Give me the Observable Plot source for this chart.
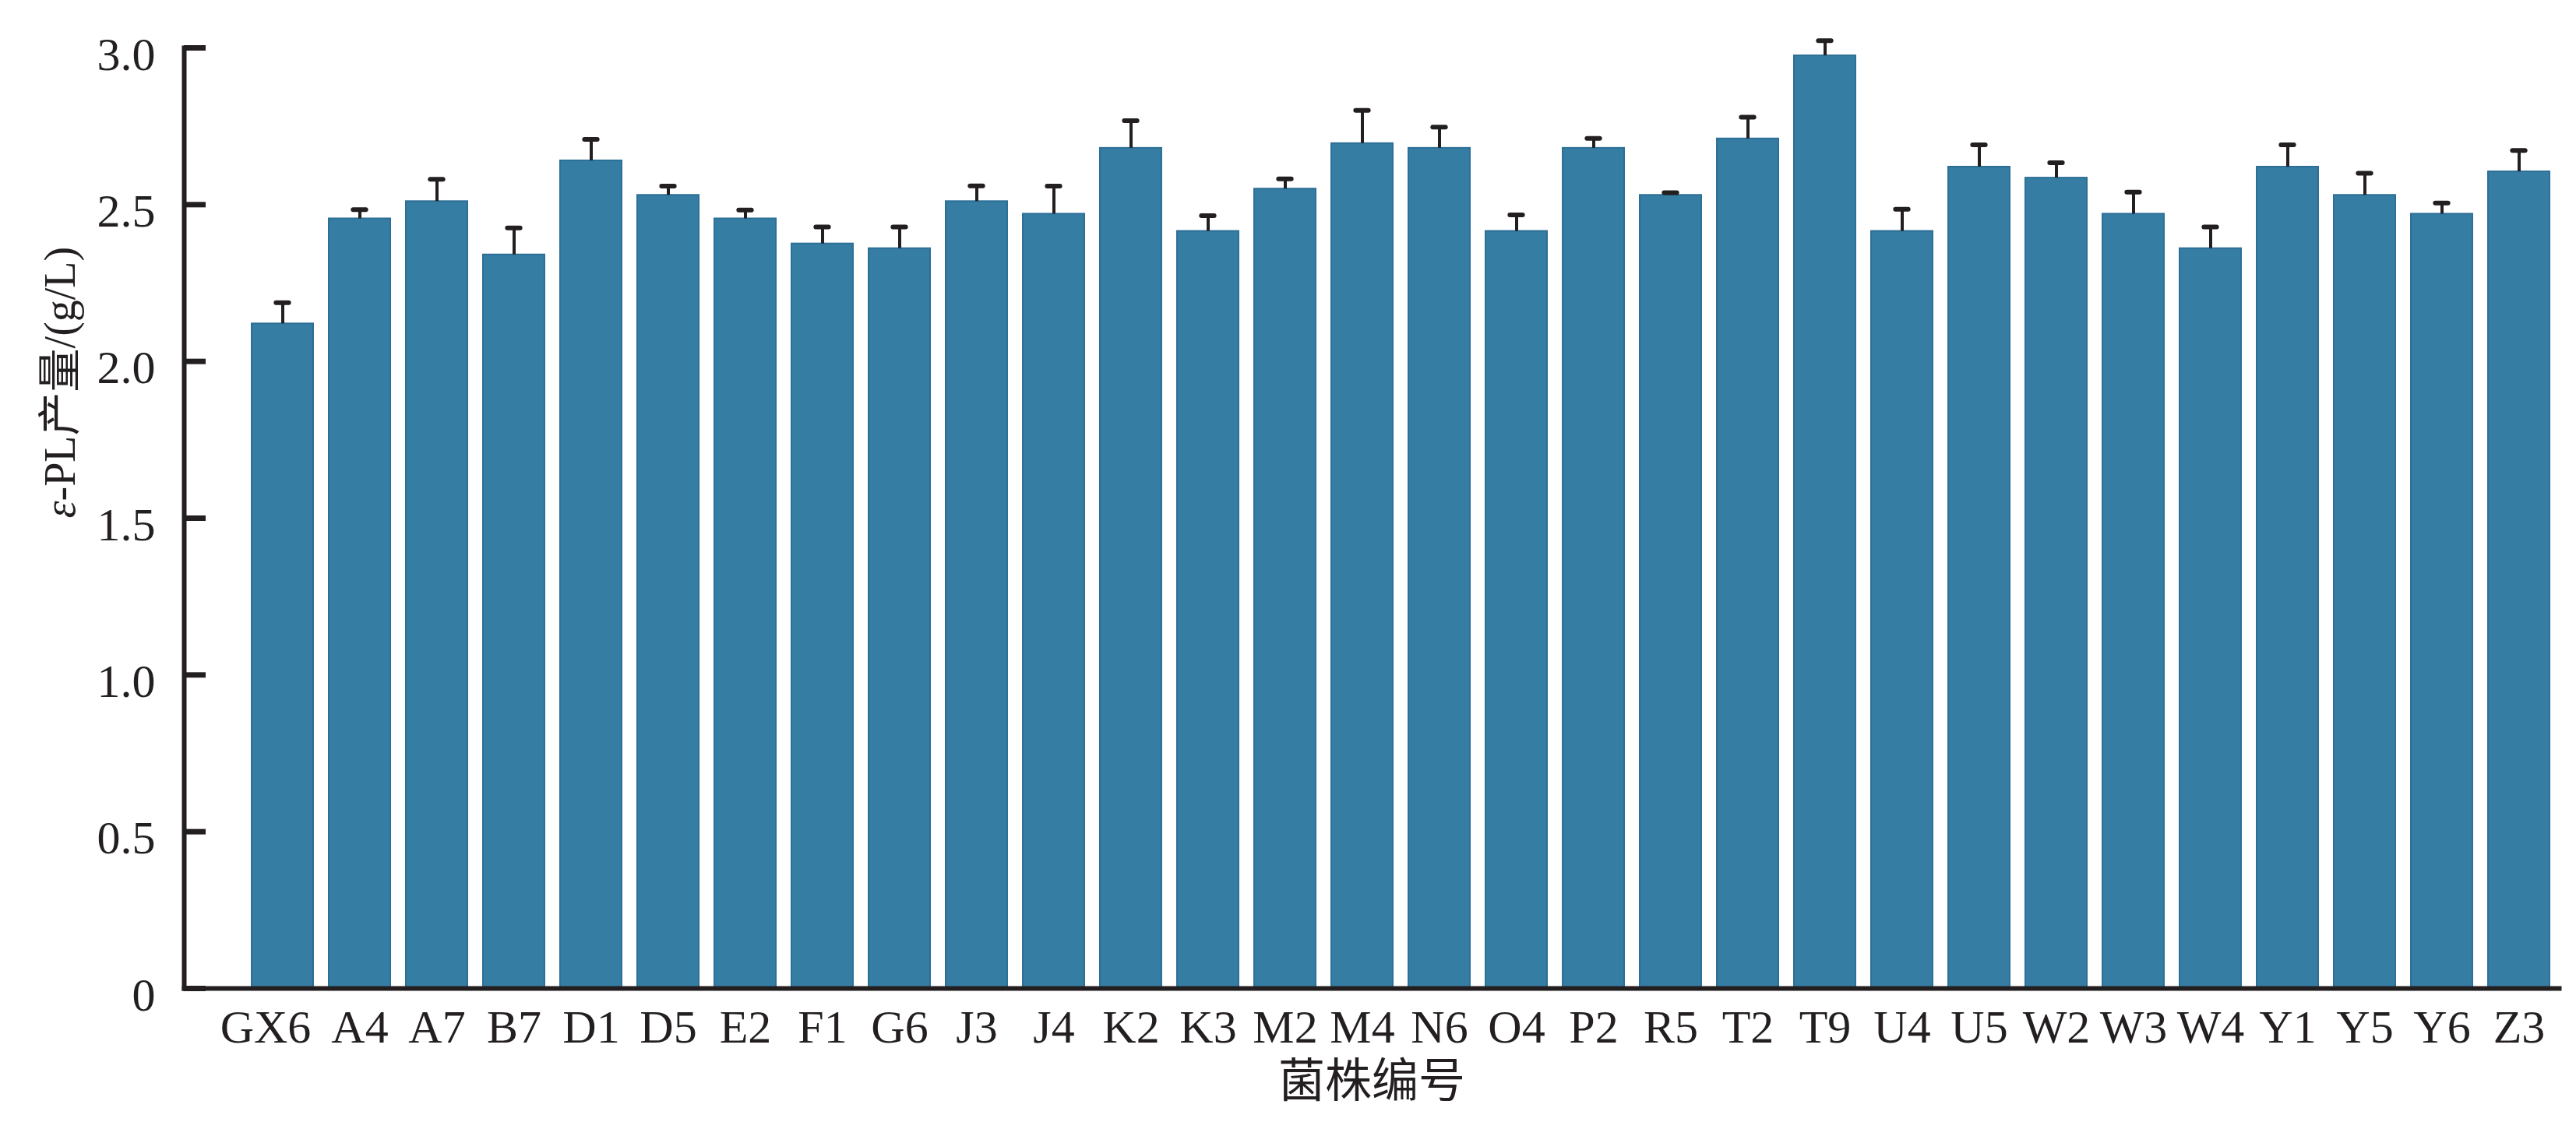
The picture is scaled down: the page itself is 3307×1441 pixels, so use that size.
<!DOCTYPE html>
<html>
<head>
<meta charset="utf-8">
<script src="https://cdn.jsdelivr.net/npm/d3@7"></script>
<script src="https://cdn.jsdelivr.net/npm/@observablehq/plot@0.6"></script>
<style>
  html, body { margin: 0; padding: 0; background: #ffffff; }
  #chart { width: 3307px; height: 1441px; }
</style>
</head>
<body>
<div id="chart"></div>
<script>
// ---- data ----
const strains = ["GX6","A4","A7","B7","D1","D5","E2","F1","G6","J3","J4","K2","K3","M2","M4","N6","O4","P2","R5","T2","T9","U4","U5","W2","W3","W4","Y1","Y5","Y6","Z3"];
const yields  = [2.12,2.455,2.51,2.34,2.64,2.53,2.455,2.375,2.36,2.51,2.47,2.68,2.415,2.55,2.695,2.68,2.415,2.68,2.53,2.71,2.975,2.415,2.62,2.585,2.47,2.36,2.62,2.53,2.47,2.605];
const errors  = [0.067,0.029,0.071,0.086,0.068,0.029,0.028,0.054,0.069,0.05,0.089,0.088,0.05,0.032,0.106,0.067,0.052,0.031,0.008,0.069,0.048,0.07,0.071,0.049,0.07,0.069,0.071,0.07,0.035,0.068];
const yTicks  = [0, 0.5, 1.0, 1.5, 2.0, 2.5, 3.0];
const yLabel  = "ε-PL产量/(g/L)";
const xLabel  = "菌株编号";

const table = strains.map((s, i) => ({strain: s, value: yields[i], top: yields[i] + errors[i]}));

const W = 3307, H = 1441;
const mL = 236, mR = 22, mT = 61, mB = 172;
const ink = "#231f20";
const barFill = "#367da3";
const font = "'Liberation Serif', 'Times New Roman', 'Noto Sans CJK SC', serif";

const bandW = (3283 - 314) / (strains.length - 0.2) * 0.8;
const capLen = 17;
const capInset = (bandW - capLen) / 2;

const chart = Plot.plot({
  width: W,
  height: H,
  marginLeft: mL,
  marginRight: mR,
  marginTop: mT,
  marginBottom: mB,
  style: {fontFamily: font, fontSize: "60px", color: ink, background: "#ffffff"},
  x: {domain: strains, range: [314, 3283], paddingInner: 0.2, paddingOuter: 0, label: null},
  y: {domain: [0, 3], label: null},
  marks: [
    Plot.barY(table, {x: "strain", y: "value", fill: barFill, stroke: "#2c6f97", strokeWidth: 2}),
    Plot.ruleX(table, {x: "strain", y1: "value", y2: "top", stroke: ink, strokeWidth: 4}),
    Plot.tickY(table, {x: "strain", y: "top", stroke: ink, strokeWidth: 6, strokeLinecap: "round", inset: capInset}),
    Plot.axisY({ticks: yTicks, tickSize: -28, text: null, stroke: ink, strokeWidth: 7, label: null}),
    Plot.axisY({ticks: yTicks, tickSize: 0, tickPadding: 37, dy: 9, fontSize: 60, fill: ink,
                tickFormat: d => d === 0 ? "0" : d.toFixed(1), label: null}),
    Plot.axisX({tickSize: 0, tickPadding: 27, fontSize: 60, fill: ink, label: null, className: "xticks"}),
    Plot.frame({anchor: "left", stroke: ink, strokeWidth: 6, strokeLinecap: "square"}),
    Plot.frame({anchor: "bottom", stroke: ink, strokeWidth: 6, strokeLinecap: "square"}),
    Plot.text([yLabel], {frameAnchor: "left", dx: -158, rotate: -90, fontSize: 56, fill: ink, className: "ylab"}),
    Plot.text([xLabel], {frameAnchor: "bottom", dy: 139, fontSize: 60, fill: ink})
  ]
});

// italic epsilon in the y-axis title
d3.select(chart).selectAll(".ylab text").each(function() {
  const t = d3.select(this);
  const s = t.text();
  if (s.startsWith("ε")) {
    t.text(null);
    t.append("tspan").attr("font-style", "italic").text("ε");
    t.append("tspan").text(s.slice(1));
  }
});
// the first tick label sits a little left of its bar in the original
d3.select(chart).selectAll("text").filter(function() { return d3.select(this).text() === "GX6"; })
  .attr("dx", -22);

document.getElementById("chart").appendChild(chart);
</script>
</body>
</html>
